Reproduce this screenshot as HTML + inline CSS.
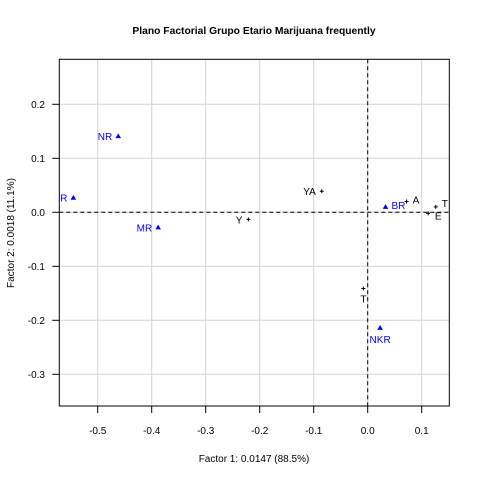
<!DOCTYPE html>
<html><head><meta charset="utf-8"><style>
body{margin:0;background:#fff;}
svg{display:block;font-family:"Liberation Sans",Arial,sans-serif;}
</style></head><body>
<svg id="c" width="480" height="480"></svg>
<script>
const xTicks=[-0.5,-0.4,-0.3,-0.2,-0.1,0.0,0.1];
const yTicks=[0.2,0.1,0.0,-0.1,-0.2,-0.3];
const rowNames=["R","NR","MR","BR","NKR"];
const rowX=[-0.545,-0.462,-0.388,0.033,0.023];
const rowY=[0.027,0.141,-0.028,0.010,-0.214];
const colNames=["YA","Y","A","T","E","T"];
const colX=[-0.085,-0.221,0.072,0.126,0.112,-0.008];
const colY=[0.039,-0.013,0.020,0.010,-0.002,-0.141];
// label placement: l=left, r=right, b=below
const rowPos=["l","l","l","r","b"];
const colPos=["l","l","r","r","b","b"];

const L=59.3,R=449.3,T=59.3,B=406;
const sx=v=>367.7+540*v, sy=v=>212.3-540*v;
const svg=document.getElementById('c');
const NS="http://www.w3.org/2000/svg";
function mk(tag,at,parent){const e=document.createElementNS(NS,tag);for(const k in at)e.setAttribute(k,at[k]);(parent||svg).appendChild(e);return e;}

let t=mk('text',{x:254,y:34,'text-anchor':'middle','font-size':10.3,'font-weight':'bold'});t.textContent="Plano Factorial Grupo Etario Marijuana frequently";


xTicks.forEach(v=>{
 const g=mk('line',{x1:sx(v),x2:sx(v),y1:T,y2:B,stroke:'#d3d3d3','stroke-width':1});
 
 const k=mk('line',{x1:sx(v),x2:sx(v),y1:B,y2:B+7,stroke:'#000'});
 
 const l=mk('text',{x:sx(v),y:434,'text-anchor':'middle','font-size':10});l.textContent=v.toFixed(1);
 
});
yTicks.forEach(v=>{
 const g=mk('line',{x1:L,x2:R,y1:sy(v),y2:sy(v),stroke:'#d3d3d3','stroke-width':1});
 
 const k=mk('line',{x1:L-7,x2:L,y1:sy(v),y2:sy(v),stroke:'#000'});
 
 const l=mk('text',{x:45,y:sy(v)+3.5,'text-anchor':'end','font-size':10});l.textContent=v.toFixed(1);
 
});
let h=mk('line',{x1:L,x2:R,y1:sy(0),y2:sy(0),stroke:'#000','stroke-dasharray':'4,3'});

let vl=mk('line',{x1:sx(0),x2:sx(0),y1:T,y2:B,stroke:'#000','stroke-dasharray':'4,3'});

let box=mk('rect',{x:L,y:T,width:R-L,height:B-T,fill:'none',stroke:'#000'});


let xl=mk('text',{x:254,y:462,'text-anchor':'middle','font-size':10});xl.textContent="Factor 1: 0.0147 (88.5%)";

let yl=mk('text',{x:0,y:0,'text-anchor':'middle','font-size':10,transform:'translate(14,233) rotate(-90)'});yl.textContent="Factor 2: 0.0018 (11.1%)";


function label(x,y,name,pos,col){
 let at={'font-size':10,fill:col};
 if(pos==='l'){at.x=x-6;at.y=y+4;at['text-anchor']='end';}
 else if(pos==='r'){at.x=x+6;at.y=y+2;at['text-anchor']='start';}
 else {at.x=x;at.y=y+15;at['text-anchor']='middle';}
 const e=mk('text',at);e.textContent=name;return e;
}
rowNames.forEach((n,i)=>{
 const x=sx(rowX[i]),y=sy(rowY[i]);
 const p=mk('polygon',{points:`${x-2.8},${y+2} ${x+2.8},${y+2} ${x},${y-2.8}`,fill:'#0000ff'});
 
 const l=label(x,y,n,rowPos[i],'#0000ff');
 
});
colNames.forEach((n,i)=>{
 const x=sx(colX[i]),y=sy(colY[i]);
 const p=mk('path',{d:`M${x-2},${y}H${x+2}M${x},${y-2}V${y+2}`,stroke:'#000','stroke-width':1});
 
 let pos=colPos[i];
 const l=label(x,y,n,pos,'#000');
 if(n==='E'){l.setAttribute('x',x+10);l.setAttribute('y',y+6);}
 if(n==='T'&&pos==='r'){l.setAttribute('y',y);}
 if(n==='T'&&pos==='b'){l.setAttribute('y',y+14);}
 
});
</script>
</body></html>
